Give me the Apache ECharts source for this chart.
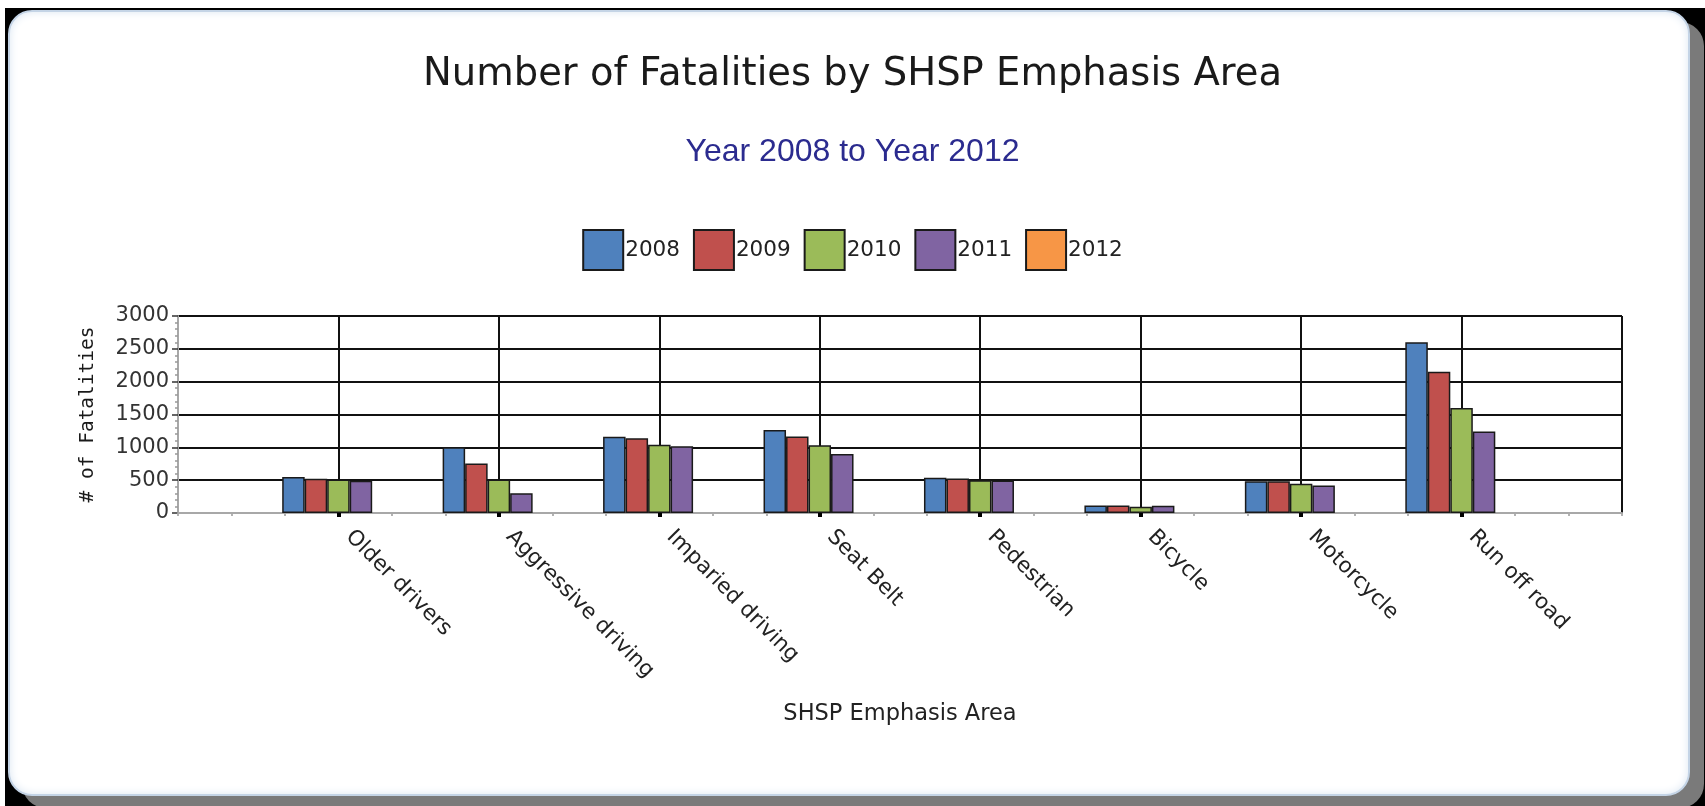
<!DOCTYPE html>
<html>
<head>
<meta charset="utf-8">
<script src="https://cdn.jsdelivr.net/npm/echarts@6/dist/echarts.min.js"></script>
<style>
  html, body { margin: 0; padding: 0; background: #fff; width: 1705px; height: 806px; overflow: hidden; }
  #outer { position: absolute; left: 5px; top: 8px; width: 1700px; height: 798px; background: #000; }
  #panel { position: absolute; left: 8px; top: 10px; width: 1678px; height: 782px; border-radius: 24px;
           background: #fff; border: 2px solid #c4d4e6; box-shadow: 14px 12px 0 #7a7a7a, inset 0 0 8px #dbe6f2; }
  #chart { position: absolute; left: 0; top: 0; width: 1705px; height: 806px; }
</style>
</head>
<body>
<div id="outer"></div>
<div id="panel"></div>
<div id="chart"></div>
<script>
const categories = ['Older drivers', 'Aggressive driving', 'Imparied driving', 'Seat Belt', 'Pedestrian', 'Bicycle', 'Motorcycle', 'Run off road'];
const years = ['2008', '2009', '2010', '2011', '2012'];
const v2008 = [550, 1000, 1160, 1265, 535, 115, 485, 2600];
const v2009 = [520, 755, 1140, 1165, 525, 115, 485, 2150];
const v2010 = [510, 510, 1040, 1030, 500, 95, 445, 1600];
const v2011 = [490, 300, 1015, 900, 495, 110, 420, 1240];
const v2012 = [null, null, null, null, null, null, null, null];
const yTicks = [0, 500, 1000, 1500, 2000, 2500, 3000];
const colors = ['#4f81bd', '#c0504d', '#9bbb59', '#8064a2', '#f79646'];

const allValues = [v2008, v2009, v2010, v2011, v2012];
const axisCats = [''].concat(categories, ['']);
const pad = arr => [null].concat(arr, [null]);

const chart = echarts.init(document.getElementById('chart'), null, { renderer: 'canvas' });
chart.setOption({
  animation: false,
  backgroundColor: 'transparent',
  color: colors,
  title: [
    { text: 'Number of Fatalities by SHSP Emphasis Area', left: 'center', top: 50,
      textStyle: { fontFamily: 'DejaVu Sans', fontSize: 38.5, fontWeight: 'normal', color: '#1a1a1a' } },
    { text: 'Year 2008 to Year 2012', left: 'center', top: 131,
      textStyle: { fontFamily: 'Liberation Sans', fontSize: 32, fontWeight: 'normal', color: '#2b2b8f' } }
  ],
  legend: {
    left: 'center', top: 224, icon: 'rect', itemWidth: 40, itemHeight: 40, itemGap: 13,
    data: years,
    itemStyle: { borderColor: '#1a1a1a', borderWidth: 2 },
    textStyle: { fontFamily: 'DejaVu Sans', fontSize: 21.5, color: '#222', padding: [0, 0, 0, -3] }
  },
  grid: { left: 178, right: 83, top: 316, bottom: 293, containLabel: false },
  xAxis: [
    {
      type: 'category', data: axisCats, boundaryGap: false,
      name: 'SHSP Emphasis Area', nameLocation: 'middle', nameGap: 190,
      nameTextStyle: { fontFamily: 'DejaVu Sans', fontSize: 22.5, color: '#222' },
      axisLine: { show: true, lineStyle: { color: '#a8a8a8', width: 2 } },
      axisTick: { show: true, length: 4, interval: (i) => i >= 1 && i <= 8, lineStyle: { color: '#000', width: 4 } },
      axisLabel: { rotate: -45, margin: 10, interval: 0, padding: [0, 0, 0, 15],
                   fontFamily: 'DejaVu Sans', fontSize: 21.5, color: '#222' },
      splitLine: { show: true, interval: (i) => i >= 1, lineStyle: { color: '#111', width: 2 } },
      z: 3
    },
    {
      type: 'value', min: 0, max: 27, interval: 1, position: 'bottom',
      axisLine: { show: false },
      axisTick: { show: true, length: 3, lineStyle: { color: '#999', width: 1.5 } },
      axisLabel: { show: false },
      splitLine: { show: false },
      z: 2
    }
  ],
  yAxis: {
    type: 'value', min: yTicks[0], max: yTicks[yTicks.length - 1], interval: 500,
    name: '# of Fatalities', nameLocation: 'middle', nameGap: 80, nameRotate: 90,
    nameTextStyle: { fontFamily: 'DejaVu Sans Mono', fontSize: 19.5, color: '#1a1a1a' },
    axisLine: { show: true, lineStyle: { color: '#a8a8a8', width: 2 } },
    axisTick: { show: true, length: 6, lineStyle: { color: '#333', width: 1.5 } },
    minorTick: { show: true, splitNumber: 5, length: 3, lineStyle: { color: '#999', width: 1.5 } },
    axisLabel: { margin: 9, fontFamily: 'DejaVu Sans', fontSize: 21, color: '#333',
                 formatter: (v) => String(v) },
    splitLine: { show: true, lineStyle: { color: '#111', width: 2 } }
  },
  series: years.map((y, i) => ({
    name: y, type: 'bar', xAxisIndex: 0,
    data: pad(allValues[i]),
    barWidth: 22.5, barGap: '0%',
    itemStyle: { color: colors[i], borderColor: '#1a1a1a', borderWidth: 1.5 },
    z: 4
  }))
});
</script>
</body>
</html>
